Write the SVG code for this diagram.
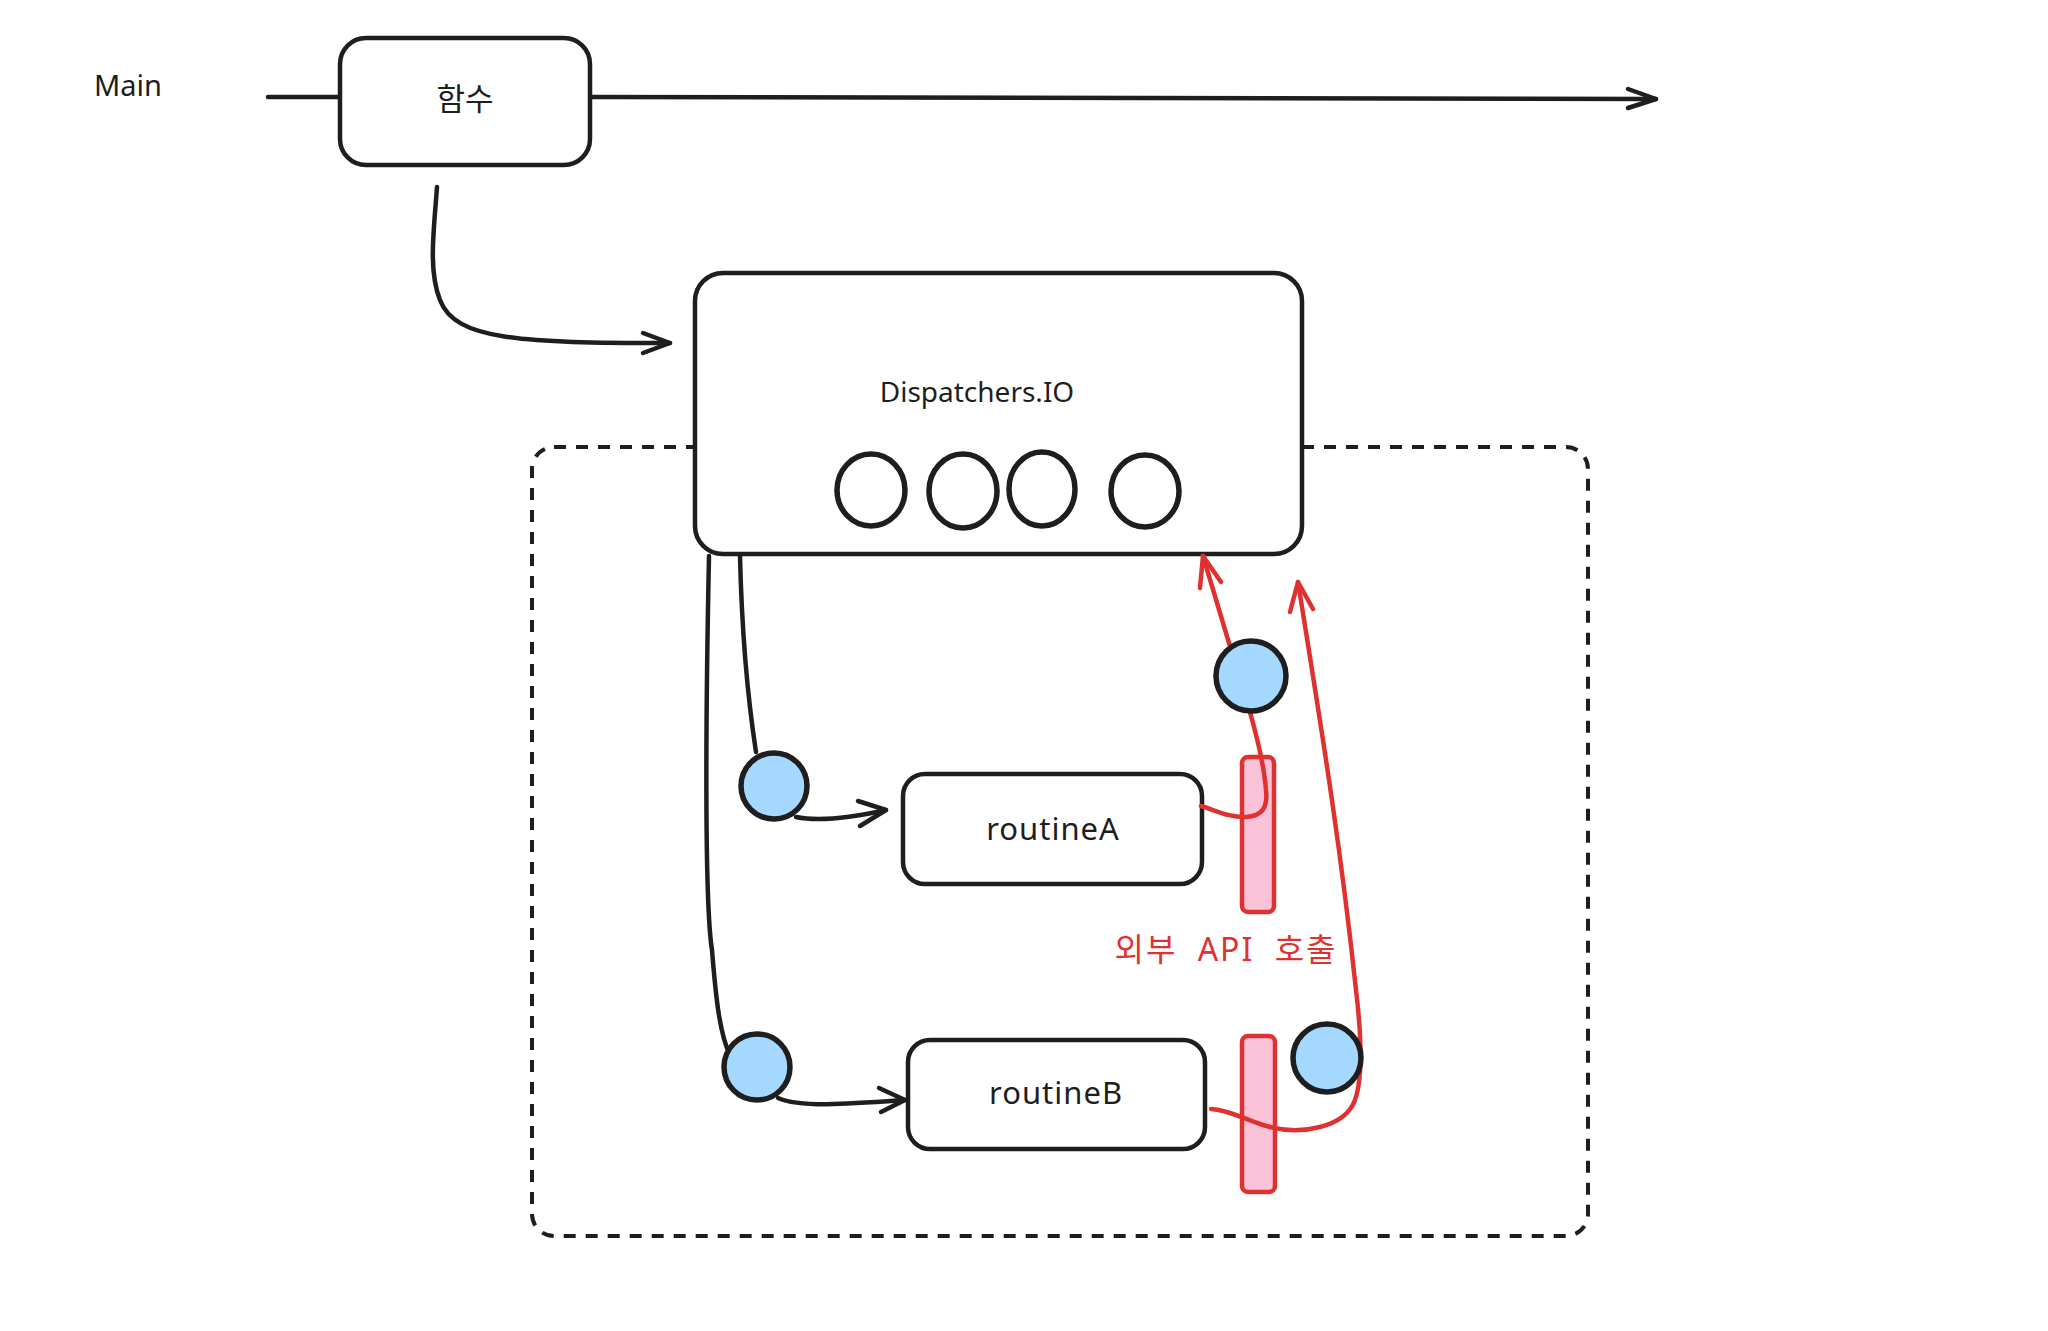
<svg xmlns="http://www.w3.org/2000/svg" width="2048" height="1331" viewBox="0 0 2048 1331">
<defs>
<style>
.ln{fill:none;stroke:#1e1e1e;stroke-width:4.5;stroke-linecap:round;stroke-linejoin:round}
.rd{fill:none;stroke:#e03131;stroke-width:4.5;stroke-linecap:round;stroke-linejoin:round}
.box{fill:#ffffff;stroke:#1e1e1e;stroke-width:4.5}
.dot{fill:#a5d8ff;stroke:#1e1e1e;stroke-width:5.5}
.pool{fill:#ffffff;stroke:#1e1e1e;stroke-width:5.5}
.bar{fill:#fcc2d7;stroke:#e03131;stroke-width:4.5}
.t{font-family:"Noto Sans","Noto Sans CJK KR",sans-serif;fill:#1e1e1e;text-anchor:middle}
</style>
</defs>
<rect width="2048" height="1331" fill="#ffffff"/>
<text class="t" x="128" y="96" font-size="29">Main</text>
<g id="scope">
<rect x="532" y="447" width="1056" height="789" rx="22" fill="none" stroke="#1e1e1e" stroke-width="4" stroke-dasharray="12 10"/>
</g>
<g id="connectors">
<path class="ln" d="M268 97 L340 97"/>
<path class="ln" d="M590 97 L1656 99"/>
<path class="ln" d="M1628 89 L1656 99 L1628 108"/>
<path class="ln" d="M437 187 C434 230 428 270 440 300 C455 340 520 343 670 343"/>
<path class="ln" d="M643 333 L670 343 L643 353"/>
<path class="ln" d="M740 556 C742 640 748 700 756 752"/>
<path class="ln" d="M796 817 C820 822 850 818 886 810"/>
<path class="ln" d="M858 801 L886 810 L860 826"/>
<path class="ln" d="M709 556 C706 700 704 900 712 950 C716 1000 720 1035 730 1055"/>
<path class="ln" d="M778 1098 C800 1108 850 1104 905 1100"/>
<path class="ln" d="M879 1088 L905 1100 L881 1112"/>
</g>
<g id="dispatchers">
<rect class="box" x="695" y="273" width="607" height="281" rx="28"/>
<text class="t" x="977" y="402" font-size="28">Dispatchers.IO</text>
<ellipse class="pool" cx="871" cy="490" rx="34" ry="36"/>
<ellipse class="pool" cx="963" cy="491" rx="34" ry="37"/>
<ellipse class="pool" cx="1042" cy="489" rx="33" ry="37"/>
<ellipse class="pool" cx="1145" cy="491" rx="34" ry="36"/>
</g>
<g id="func">
<rect class="box" x="340" y="38" width="250" height="127" rx="26"/>
<text class="t" x="465" y="110" font-size="31">함수</text>
</g>
<g id="routineA">
<rect class="box" x="903" y="774" width="299" height="110" rx="22"/>
<text class="t" x="1053" y="840" font-size="31" letter-spacing="1">routineA</text>
</g>
<g id="routineB">
<rect class="box" x="908" y="1040" width="297" height="109" rx="22"/>
<text class="t" x="1056" y="1104" font-size="31" letter-spacing="1">routineB</text>
</g>
<g id="api-bars">
<rect class="bar" x="1242" y="757" width="32" height="155" rx="6"/>
<rect class="bar" x="1242" y="1036" width="33" height="156" rx="6"/>
</g>
<g id="red-connectors">
<path class="rd" d="M1201 806 C1215 810 1230 818 1246 817 C1262 816 1268 808 1266 790 C1264 765 1257 730 1229 643 L1203 556"/>
<path class="rd" d="M1200 588 L1203 556 L1221 582"/>
<path class="rd" d="M1211 1109 C1230 1110 1245 1120 1270 1127 C1300 1135 1345 1128 1355 1100 C1362 1080 1362 1040 1356 990 C1340 840 1320 720 1298 582"/>
<path class="rd" d="M1290 612 L1298 582 L1313 609"/>
</g>
<g id="workers">
<circle class="dot" cx="774" cy="786" r="33"/>
<circle class="dot" cx="757" cy="1067" r="33"/>
<circle class="dot" cx="1251" cy="676" r="35"/>
<circle class="dot" cx="1327" cy="1058" r="34"/>
</g>
<text class="t" x="1226" y="961" font-size="32" letter-spacing="2" word-spacing="10" style="fill:#e03131">외부 API 호출</text>
</svg>
